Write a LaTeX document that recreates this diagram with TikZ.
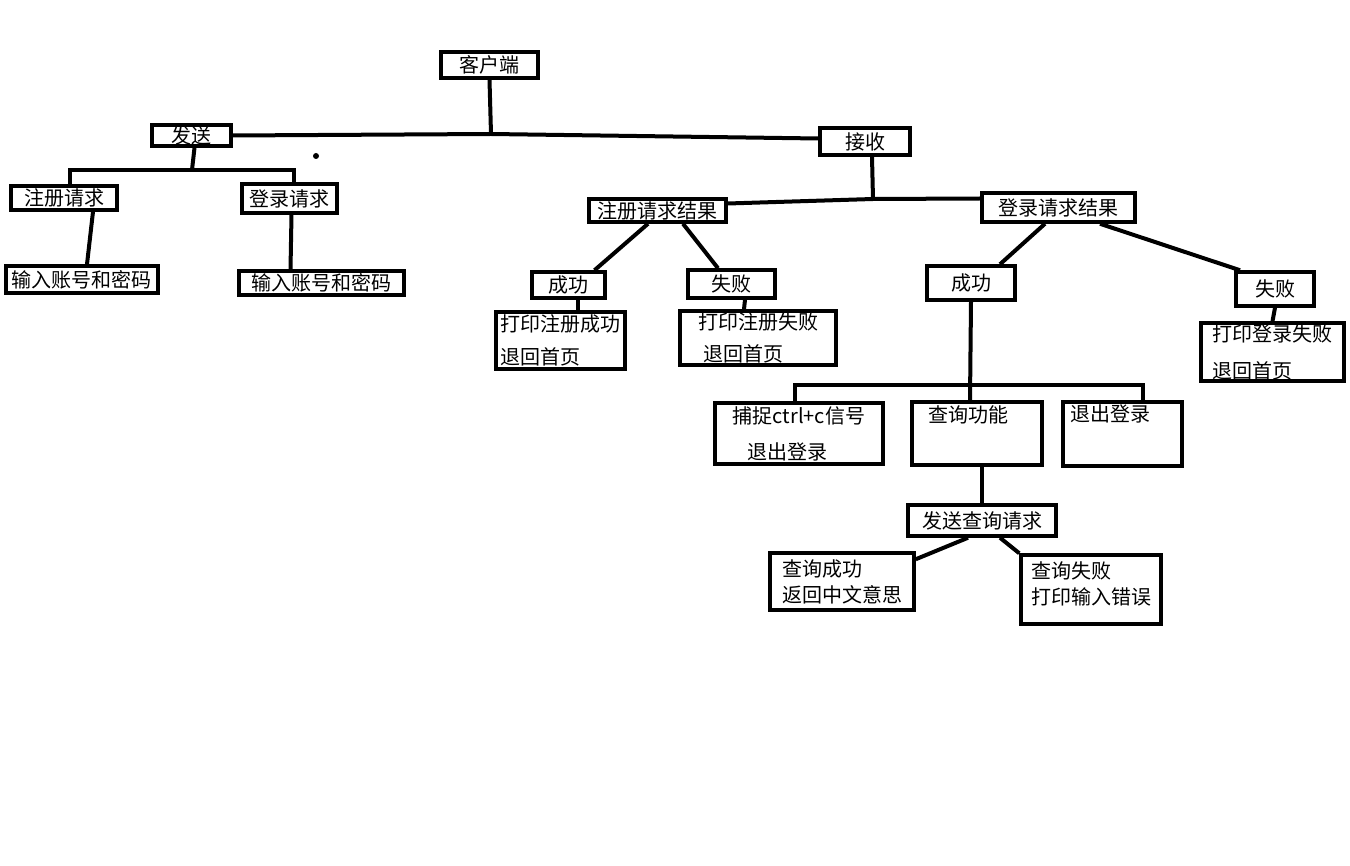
\documentclass[tikz,border=0pt]{standalone}
\usepackage{fontspec}
\newfontfamily\cjk{Noto Sans CJK SC}
\newcommand{\boxfont}[0]{\cjk\fontsize{20}{24}\selectfont}

\begin{document}
\begin{tikzpicture}[x=1pt,y=-1pt,
	box/.style={draw, line width=3.5pt, inner sep=0pt, align=left, font=\boxfont},
	txt/.style={font=\boxfont, inner sep=0pt},
	wire/.style={line width=4pt}]

%%%%%%%%%%%%%%%%%%%%%%%%%%%%%%%%%%%%%%%%%%%%%%%%%%%%%%%%%%%%%%%%%%%%%%%%%%%%%%%%
%	client: send side on the left, receive side on the right                   %
%%%%%%%%%%%%%%%%%%%%%%%%%%%%%%%%%%%%%%%%%%%%%%%%%%%%%%%%%%%%%%%%%%%%%%%%%%%%%%%%

	\useasboundingbox[fill=white] (0,0) rectangle (1350,866);

	%Top and the two branches
	\node[box, minimum width=97pt, minimum height=26pt] (client) at (489.5,65) {客户端};
	\node[box, minimum width=79pt, minimum height=21pt] (send) at (191.5,135.5) {发送};
	\node[box, minimum width=90pt, minimum height=27pt] (recv) at (865,141.5) {接收};

	\coordinate (trunk) at (491,134);
	\draw[wire] (client.south) -- (trunk);
	\draw[wire] (send.east) -- (trunk) -- ([yshift=3pt]recv.west);

	%Send side
	\node[box, minimum width=106pt, minimum height=24pt] (regreq) at (64,198) {注册请求};
	\node[box, minimum width=95pt, minimum height=29pt] (logreq) at (289.5,198.5) {登录请求};
	\node[box, minimum width=152pt, minimum height=27pt] (input1) at (82,279.5) {输入账号和密码};
	\node[box, minimum width=165pt, minimum height=24pt] (input2) at (321.5,283) {输入账号和密码};

	\coordinate (sendbus) at (192,170);
	\draw[wire] ([xshift=3pt]send.south) -- (sendbus);
	\draw[wire] ([xshift=6pt]regreq.north) |- (sendbus) -| ([xshift=4pt]logreq.north);
	\draw[wire] ([xshift=29pt]regreq.south) -- ([xshift=5pt]input1.north);
	\draw[wire] ([xshift=2pt]logreq.south) -- ([xshift=-31pt]input2.north);
	\fill (316,156) circle (3);

	%Receive side: the two results
	\node[box, minimum width=137pt, minimum height=23pt] (regres) at (657.5,210.5) {注册请求结果};
	\node[box, minimum width=153pt, minimum height=29pt] (logres) at (1058.5,207.5) {登录请求结果};

	\coordinate (recvbus) at (873,199);
	\draw[wire] ([xshift=7pt]recv.south) -- (recvbus);
	\draw[wire] ([yshift=7pt]regres.east) -- (recvbus) -- ([yshift=9pt]logres.west);

	%Register result
	\node[box, minimum width=73pt, minimum height=26pt] (regok) at (568.5,285) {成功};
	\node[box, minimum width=87pt, minimum height=28pt] (regfail) at (731.5,284) {失败};
	\node[box, minimum width=129pt, minimum height=57pt] (regokmsg) at (560.5,340.5) {打印注册成功\\[9pt]退回首页};
	\node[box, minimum width=156pt, minimum height=54pt] (regfailmsg) at (758,338) {打印注册失败\\[8pt]\hspace*{5pt}退回首页};

	\draw[wire] ([xshift=-9.5pt]regres.south) -- ([xshift=26pt]regok.north);
	\draw[wire] ([xshift=25.5pt]regres.south) -- ([xshift=-13.5pt]regfail.north);
	\draw[wire] ([xshift=9pt]regok.south) -- ([xshift=17pt]regokmsg.north);
	\draw[wire] ([xshift=13.5pt]regfail.south) -- ([xshift=-14pt]regfailmsg.north);

	%Login result
	\node[box, minimum width=88pt, minimum height=34pt] (logok) at (971,283) {成功};
	\node[box, minimum width=78pt, minimum height=34pt] (logfail) at (1275,289) {失败};
	\node[box, minimum width=143pt, minimum height=58pt] (logfailmsg) at (1272.5,352) {打印登录失败\\[13pt]退回首页};

	\draw[wire] ([xshift=-13.5pt]logres.south) -- ([xshift=29pt]logok.north);
	\draw[wire] ([xshift=41.5pt]logres.south) -- ([xshift=-35pt]logfail.north);
	\draw[wire] (logfail.south) -- (logfailmsg.north);

	%After a successful login
	\node[box, minimum width=168pt, minimum height=61pt] (ctrlc) at (799,433.5) {捕捉ctrl+c信号\\[12pt]\hspace*{15pt}退出登录};
	\node[box, minimum width=130pt, minimum height=63pt,
		label={[txt, anchor=north, xshift=-9pt, yshift=-5pt]north:查询功能}] (query) at (977,433.5) {};
	\node[box, minimum width=119pt, minimum height=64pt,
		label={[txt, anchor=north, xshift=-12pt, yshift=-4pt]north:退出登录}] (logout) at (1122.5,434) {};

	\coordinate (okbus) at (970,385);
	\draw[wire] (logok.south) -- ([xshift=-7pt]query.north);
	\draw[wire] ([xshift=-4pt]ctrlc.north) |- (okbus) -| ([xshift=20pt]logout.north);

	%Query
	\node[box, minimum width=148pt, minimum height=31pt] (sendq) at (982,520.5) {发送查询请求};
	\node[box, minimum width=144pt, minimum height=57pt] (qok) at (842,581.5) {查询成功\\[2pt]返回中文意思};
	\node[box, minimum width=140pt, minimum height=69pt] (qfail) at (1091,589.5) {查询失败\\[2pt]打印输入错误\\[-12pt]\mbox{}};

	\draw[wire] ([xshift=5pt]query.south) -- (sendq.north);
	\draw[wire] ([xshift=-14pt]sendq.south) -- ([yshift=-8pt]qok.north east);
	\draw[wire] ([xshift=18pt]sendq.south) -- (qfail.north west);

\end{tikzpicture}
\end{document}
